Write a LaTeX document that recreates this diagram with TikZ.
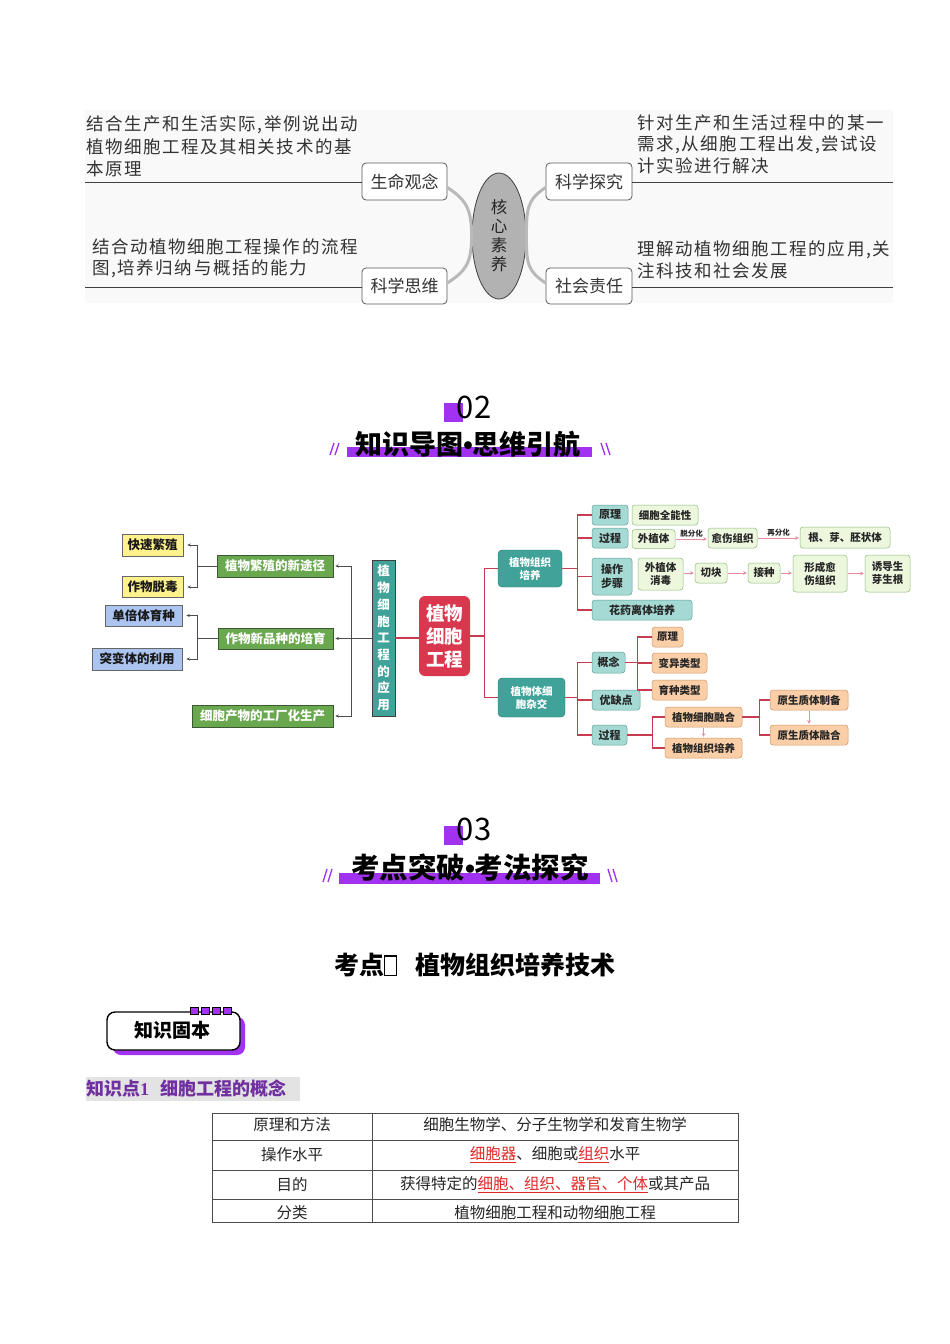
\documentclass[tikz,border=0pt]{standalone}
\usepackage{fontspec}
\setmainfont{Noto Sans CJK SC}
\newfontfamily\spaced[LetterSpace=9]{Noto Sans CJK SC}
\newfontfamily\serifnum{Liberation Serif}
\newfontfamily\libsans{Liberation Sans}
\usetikzlibrary{arrows.meta,shapes.geometric}
\definecolor{redbox}{RGB}{217,55,78}
\definecolor{redln}{RGB}{200,60,82}
\definecolor{tealc}{RGB}{64,162,152}
\definecolor{tealdk}{RGB}{45,125,118}
\definecolor{ltealf}{RGB}{165,218,212}
\definecolor{ltealb}{RGB}{95,160,155}
\definecolor{lgreenf}{RGB}{237,247,222}
\definecolor{lgreenb}{RGB}{140,190,120}
\definecolor{orangef}{RGB}{250,207,168}
\definecolor{orangeb}{RGB}{205,150,100}
\definecolor{greenf}{RGB}{106,168,79}
\definecolor{greenb}{RGB}{60,90,50}
\definecolor{yellowf}{RGB}{255,242,140}
\definecolor{bluef}{RGB}{172,196,240}
\definecolor{violet1}{RGB}{160,50,240}
\definecolor{kpurple}{RGB}{112,48,160}
\definecolor{pinkarr}{RGB}{230,140,155}
\definecolor{redtxt}{RGB}{225,40,40}
\newcommand\myfs[1]{\fontsize{#1}{#1}\selectfont}
\newcommand\myfsb[2]{\fontsize{#1}{#2}\selectfont}
\newcommand\tofu{{\setlength{\fboxsep}{0pt}\setlength{\fboxrule}{1.2pt}\fbox{\rule{0pt}{0.72em}\hspace{0.42em}}}}
\newcommand\rl[1]{\textcolor{redtxt}{\underline{#1}}}
\newcommand\nbul{{\libsans\bfseries •}}
\begin{document}
\begin{tikzpicture}[x=1pt,y=-1pt,
  bx/.style={rectangle, inner sep=0pt, align=center},
  topbox/.style={bx, draw=black!65, fill=white, rounded corners=4pt, line width=0.8pt, font=\myfs{17}, text=black!80},
  toptext/.style={anchor=west, inner sep=0pt, font=\spaced\myfs{17.5}, text=black!80},
  topline/.style={draw=black!75, line width=1pt},
  curveln/.style={draw=gray!55, line width=3pt},
  ttl/.style={inner sep=0pt, font=\bfseries, text=black},
  yellowbox/.style={bx, draw=black!60, fill=yellowf, line width=0.6pt, font=\bfseries\myfs{12.5}, text=black!90},
  bluebox/.style={bx, draw=black!60, fill=bluef, line width=0.6pt, font=\bfseries\myfs{12.5}, text=black!90},
  greenbox/.style={bx, draw=greenb, fill=greenf, line width=0.6pt, font=\bfseries\myfs{12.5}, text=white},
  appbox/.style={bx, draw=black!75, fill=tealc, line width=0.8pt, font=\bfseries\myfsb{12.5}{16.7}, text=white},
  corebox/.style={bx, fill=redbox, rounded corners=6pt, font=\bfseries\myfsb{18.5}{23}, text=white},
  tealbox/.style={bx, fill=tealc, draw=tealdk, line width=0.4pt, rounded corners=4pt, font=\bfseries\myfsb{10.5}{13}, text=white},
  ltbox/.style={bx, fill=ltealf, draw=ltealb, line width=0.5pt, rounded corners=3pt, font=\bfseries\myfsb{11}{13.5}, text=black!85},
  lgbox/.style={bx, fill=lgreenf, draw=lgreenb, line width=0.5pt, rounded corners=3pt, font=\bfseries\myfsb{10.5}{13}, text=black!85},
  orbox/.style={bx, fill=orangef, draw=orangeb, line width=0.5pt, rounded corners=3pt, font=\bfseries\myfsb{10.5}{13}, text=black!85},
  darkln/.style={draw=black!70, line width=0.7pt},
  darr/.style={darkln, -{Stealth[length=3.5pt,width=3pt]}, shorten >=4pt},
  redline/.style={draw=redln, line width=1.3pt},
  parr/.style={draw=pinkarr, line width=0.8pt, -{Stealth[length=3.5pt,width=3.5pt]}, shorten >=1pt, shorten <=1pt},
  slashmark/.style={draw=violet1, line width=1.3pt},
  cell/.style={inner sep=0pt, font=\myfs{15.5}, text=black!85}
]
\fill[white] (0,0) rectangle (950,1344);
\useasboundingbox (0,0) rectangle (950,1344);

% ---------- top: core competencies ----------
\fill[gray!5] (85,110) rectangle (893,303);
\node[topbox, minimum width=85pt, minimum height=37pt] (life) at (404.5,181.5) {生命观念};
\node[topbox, minimum width=85pt, minimum height=36pt] (think) at (404.5,286) {科学思维};
\node[topbox, minimum width=86pt, minimum height=37pt] (inq) at (589,181.5) {科学探究};
\node[topbox, minimum width=86pt, minimum height=36pt] (soc) at (589,286) {社会责任};
\node[ellipse, draw=black!75, fill=gray!60, line width=0.8pt, minimum width=54pt, minimum height=126pt, inner sep=0pt, align=center, font=\myfsb{16.5}{19}, text=black!85] (core) at (499,236) {核\\心\\素\\养};
\draw[curveln] ([yshift=-6pt]life.east) .. controls +(18,12) and +(0,-28) .. (core.west) .. controls +(0,28) and +(18,-12) .. ([yshift=3pt]think.east);
\draw[curveln] ([yshift=-6pt]inq.west) .. controls +(-18,12) and +(0,-28) .. (core.east) .. controls +(0,28) and +(-18,-12) .. ([yshift=3pt]soc.west);
\coordinate (la) at (85,182);
\coordinate (lb) at (85,287);
\coordinate (ra) at (893,182);
\coordinate (rb) at (893,287);
\draw[topline] (la) -- (la -| life.west);
\draw[topline] (lb) -- (lb -| think.west);
\draw[topline] (ra -| inq.east) -- (ra);
\draw[topline] (rb -| soc.east) -- (rb);
\node[toptext] (tl1) at (86,125) {结合生产和生活实际,举例说出动};
\node[toptext] (tl2) at (86,147) {植物细胞工程及其相关技术的基};
\node[toptext] (tl3) at (86,169) {本原理};
\node[toptext] (tl4) at (92,247) {结合动植物细胞工程操作的流程};
\node[toptext] (tl5) at (92,269) {图,培养归纳与概括的能力};
\node[toptext] (tr1) at (637,123) {针对生产和生活过程中的某一};
\node[toptext] (tr2) at (637,145) {需求,从细胞工程出发,尝试设};
\node[toptext] (tr3) at (637,166) {计实验进行解决};
\node[toptext] (tr4) at (637,250) {理解动植物细胞工程的应用,关};
\node[toptext] (tr5) at (637,271) {注科技和社会发展};

% ---------- header 02 ----------
\fill[violet1] (444,403) rectangle (463,422);
\node[inner sep=0pt, font=\myfs{31}, text=black] (n02) at (474,407) {02};
\fill[violet1] (347,447) rectangle (592,457);
\node[ttl, font=\bfseries\myfs{27}] (h02) at (468,444) {知识导图\nbul 思维引航};
\draw[slashmark] (330,455) -- (334,443) (335,455) -- (339,443);
\draw[slashmark] (601,443) -- (605,455) (606,443) -- (610,455);

% ---------- mind map ----------
\node[yellowbox, minimum width=61pt, minimum height=22pt] (ksfz) at (152.5,545) {快速繁殖};
\node[yellowbox, minimum width=61pt, minimum height=21pt] (zwtd) at (152.5,587) {作物脱毒};
\node[bluebox, minimum width=77pt, minimum height=21pt] (dbt) at (143.5,615.5) {单倍体育种};
\node[bluebox, minimum width=90pt, minimum height=22pt] (tbt) at (137,659) {突变体的利用};
\node[greenbox, minimum width=116pt, minimum height=22pt] (g1) at (275,566) {植物繁殖的新途径};
\node[greenbox, minimum width=115pt, minimum height=21pt] (g2) at (275.5,638.5) {作物新品种的培育};
\node[greenbox, minimum width=141pt, minimum height=22pt] (g3) at (262.5,716) {细胞产物的工厂化生产};
\node[appbox, minimum width=23pt, minimum height=156pt] (app) at (383.5,638) {植\\物\\细\\胞\\工\\程\\的\\应\\用};
\node[corebox, minimum width=51pt, minimum height=80pt] (core2) at (444.5,636) {植物\\细胞\\工程};
\node[tealbox, minimum width=64pt, minimum height=37pt] (tc1) at (530,568.5) {植物组织\\培养};
\node[tealbox, minimum width=67pt, minimum height=39pt] (tc2) at (531.5,697.5) {植物体细\\胞杂交};

\draw[darkln] (g1.west) -- ++(-19,0) coordinate (b1);
\draw[darkln] (b1 |- ksfz.east) -- (b1 |- zwtd.east);
\draw[darr] (b1 |- ksfz.east) -- (ksfz.east);
\draw[darr] (b1 |- zwtd.east) -- (zwtd.east);
\draw[darkln] (g2.west) -- ++(-20,0) coordinate (b2);
\draw[darkln] (b2 |- dbt.east) -- (b2 |- tbt.east);
\draw[darr] (b2 |- dbt.east) -- (dbt.east);
\draw[darr] (b2 |- tbt.east) -- (tbt.east);
\draw[darkln] (app.west) -- ++(-20,0) coordinate (b3);
\draw[darkln] (b3 |- g1.east) -- (b3 |- g3.east);
\draw[darr, shorten >=2pt] (b3 |- g1.east) -- (g1.east);
\draw[darr, shorten >=2pt] (b3 |- g2.east) -- (g2.east);
\draw[darr, shorten >=2pt] (b3 |- g3.east) -- (g3.east);

\draw[redline] (app.east) -- (app.east -| core2.west);
\draw[redline] (core2.east) -- ++(14,0) coordinate (r1);
\draw[redline] (r1 |- tc1.west) -- (r1 |- tc2.west);
\draw[redline] (r1 |- tc1.west) -- (tc1.west);
\draw[redline] (r1 |- tc2.west) -- (tc2.west);

% plant tissue culture branch
\node[ltbox, minimum width=36pt, minimum height=20pt] (lt1) at (610,515) {原理};
\node[ltbox, minimum width=36pt, minimum height=20pt] (lt2) at (610,538) {过程};
\node[ltbox, minimum width=40pt, minimum height=37pt] (lt3) at (612,576.5) {操作\\步骤};
\node[ltbox, minimum width=100pt, minimum height=20pt] (lt4) at (642,610) {花药离体培养};
\draw[redline] (tc1.east) -- ++(15,0) coordinate (r2);
\draw[redline] (r2 |- lt1.west) -- (r2 |- lt4.west);
\draw[redline] (r2 |- lt1.west) -- (lt1.west);
\draw[redline] (r2 |- lt2.west) -- (lt2.west);
\draw[redline] (r2 |- lt3.west) -- (lt3.west);
\draw[redline] (r2 |- lt4.west) -- (lt4.west);

\node[lgbox, minimum width=66pt, minimum height=20pt] (lg1) at (665,515) {细胞全能性};
\node[lgbox, minimum width=43pt, minimum height=19pt] (lg2) at (653.5,539) {外植体};
\node[lgbox, minimum width=49pt, minimum height=20pt] (lg3) at (732.5,538) {愈伤组织};
\node[lgbox, minimum width=90pt, minimum height=21pt] (lg4) at (845,537.5) {根、芽、胚状体};
\node[lgbox, minimum width=45pt, minimum height=32pt] (lg5) at (660.5,574) {外植体\\消毒};
\node[lgbox, minimum width=32pt, minimum height=20pt] (lg6) at (711,573) {切块};
\node[lgbox, minimum width=32pt, minimum height=20pt] (lg7) at (764,573) {接种};
\node[lgbox, minimum width=54pt, minimum height=37pt] (lg8) at (820,573.5) {形成愈\\伤组织};
\node[lgbox, minimum width=45pt, minimum height=37pt] (lg9) at (887.5,573.5) {诱导生\\芽生根};
\draw[parr] (lg2.east) -- (lg2.east -| lg3.west) node[midway, above=1pt, inner sep=0pt, font=\bfseries\myfs{7.5}, text=black!85] (tfh) {脱分化};
\draw[parr] (lg3.east) -- (lg3.east -| lg4.west) node[midway, above=1.5pt, inner sep=0pt, font=\bfseries\myfs{7.5}, text=black!85] (zfh) {再分化};
\draw[parr] (lg6.west -| lg5.east) -- (lg6.west);
\draw[parr] (lg6.east) -- (lg7.west);
\draw[parr] (lg7.east) -- (lg7.east -| lg8.west);
\draw[parr] (lg8.east) -- (lg8.east -| lg9.west);

% somatic hybridization branch
\node[ltbox, minimum width=33pt, minimum height=21pt] (lt5) at (608.5,662.5) {概念};
\node[ltbox, minimum width=48pt, minimum height=20pt] (lt6) at (616,700) {优缺点};
\node[ltbox, minimum width=35pt, minimum height=20pt] (lt7) at (609.5,735) {过程};
\draw[redline] (tc2.east) -- ++(12,0) coordinate (r3);
\draw[redline] (r3 |- lt5.west) -- (r3 |- lt7.west);
\draw[redline] (r3 |- lt5.west) -- (lt5.west);
\draw[redline] (r3 |- lt6.west) -- (lt6.west);
\draw[redline] (r3 |- lt7.west) -- (lt7.west);

\node[orbox, minimum width=31pt, minimum height=20pt] (or1) at (667.5,637) {原理};
\node[orbox, minimum width=55pt, minimum height=20pt] (or2) at (679.5,663) {变异类型};
\node[orbox, minimum width=55pt, minimum height=20pt] (or3) at (679.5,690) {育种类型};
\node[orbox, minimum width=77pt, minimum height=20pt] (or4) at (703.5,717) {植物细胞融合};
\node[orbox, minimum width=77pt, minimum height=20pt] (or5) at (703.5,748) {植物组织培养};
\node[orbox, minimum width=78pt, minimum height=20pt] (or6) at (809,700) {原生质体制备};
\node[orbox, minimum width=78pt, minimum height=20pt] (or7) at (809,735) {原生质体融合};
\draw[redline] (lt5.east) -- ++(12,0) coordinate (r4);
\draw[redline] (r4 |- or1.west) -- (r4 |- or3.west);
\draw[redline] (r4 |- or1.west) -- (or1.west);
\draw[redline] (r4 |- or2.west) -- (or2.west);
\draw[redline] (r4 |- or3.west) -- (or3.west);
\draw[redline] (lt7.east) -- ++(25,0) coordinate (r5);
\draw[redline] (r5 |- or4.west) -- (r5 |- or5.west);
\draw[redline] (r5 |- or4.west) -- (or4.west);
\draw[redline] (r5 |- or5.west) -- (or5.west);
\draw[redline] (or4.east) -- ++(17,0) coordinate (r6);
\draw[redline] (r6 |- or6.west) -- (r6 |- or7.west);
\draw[redline] (r6 |- or6.west) -- (or6.west);
\draw[redline] (r6 |- or7.west) -- (or7.west);
\draw[parr] (or4.south) -- (or5.north);
\draw[parr] (or6.south) -- (or7.north);

% ---------- header 03 ----------
\fill[violet1] (444,826) rectangle (463,845);
\node[inner sep=0pt, font=\myfs{31}, text=black] (n03) at (474,829) {03};
\fill[violet1] (339,873) rectangle (600,884);
\node[ttl, font=\bfseries\myfs{28.5}] (h03) at (470,868) {考点突破\nbul 考法探究};
\draw[slashmark] (323,882) -- (327,869) (328,882) -- (332,869);
\draw[slashmark] (608,869) -- (612,882) (613,869) -- (617,882);

% ---------- section heading ----------
\node[ttl, font=\bfseries\myfs{25}] (kd) at (475,965) {考点\tofu\hspace{0.75em}植物组织培养技术};

% badge
\fill[violet1, rounded corners=8pt] (113,1017) rectangle (245,1055);
\draw[black, line width=1.4pt, fill=white, rounded corners=8pt] (107,1012) rectangle (240,1050);
\foreach \sx in {190,201,212,223}{
  \draw[black, line width=0.9pt, fill=violet1] (\sx,1007) rectangle ++(8,7);
}
\node[ttl, font=\bfseries\myfs{19}] (badge) at (172,1030) {知识固本};

% knowledge point
\fill[gray!22] (86,1077) rectangle (300,1101);
\node[inner sep=0pt, anchor=west, font=\bfseries\myfs{18}, text=kpurple] (kp) at (86,1089) {知识点{\serifnum 1}\hspace{0.6em}细胞工程的概念};

% table
\draw[draw=black!70, line width=0.8pt] (212,1113) rectangle (738,1222);
\draw[draw=black!70, line width=0.8pt] (212,1140) -- (738,1140) (212,1170) -- (738,1170) (212,1199) -- (738,1199) (372,1113) -- (372,1222);
\node[cell] (c11) at (292,1125) {原理和方法};
\node[cell] (c12) at (555,1125) {细胞生物学、分子生物学和发育生物学};
\node[cell] (c21) at (292,1155) {操作水平};
\node[cell] (c22) at (555,1155) {\rl{细胞器}、细胞或\rl{组织}水平};
\node[cell] (c31) at (292,1185) {目的};
\node[cell] (c32) at (555,1185) {获得特定的\rl{细胞、组织、器官、个体}或其产品};
\node[cell] (c41) at (292,1213) {分类};
\node[cell] (c42) at (555,1213) {植物细胞工程和动物细胞工程};
\end{tikzpicture}
\end{document}
